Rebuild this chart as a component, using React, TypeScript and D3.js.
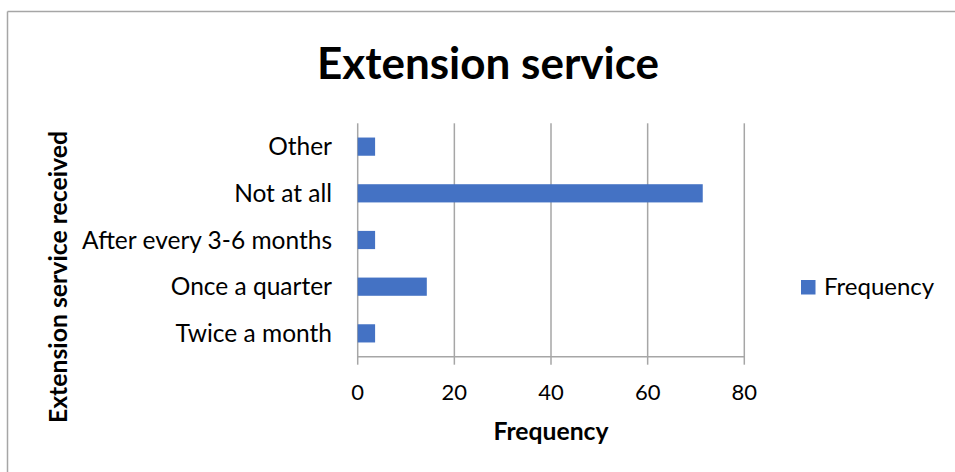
import React from "react";
import * as d3 from "d3";

const categories = ["Other", "Not at all", "After every 3-6 months", "Once a quarter", "Twice a month"];
const frequency = [3.6, 71.4, 3.6, 14.3, 3.6];
const xTicks = [0, 20, 40, 60, 80];
const title = "Extension service";
const xTitle = "Frequency";
const yTitle = "Extension service received";
const seriesName = "Frequency";

const W = 955;
const H = 472;
const FONT = "Lato, 'Open Sans', sans-serif";

export default function App() {
  const left = 357.7;
  const right = 744.3;
  const top = 123.3;
  const bottom = 356.7;
  const x = d3.scaleLinear().domain([0, 80]).range([left, right]);
  const y = d3.scaleBand<string>().domain(categories).range([top, bottom]).paddingInner(0.61).paddingOuter(0.305);
  const grid = "#a6a6a6";
  return (
    <svg width={W} height={H} style={{ position: "absolute", left: 0, top: 0, background: "#fff" }}>
      <rect x={0} y={0} width={W} height={H} fill="#fff" />
      <line x1={7.5} y1={11.5} x2={W} y2={11.5} stroke="#a6a6a6" strokeWidth={1.5} />
      <line x1={7.5} y1={11.5} x2={7.5} y2={H} stroke="#a6a6a6" strokeWidth={1.5} />
      <text x={488} y={79} textAnchor="middle" fontFamily={FONT} fontWeight={700} fontSize={44} fill="#000">
        {title}
      </text>
      {xTicks.map((t) => (
        <line key={"g" + t} x1={x(t)} x2={x(t)} y1={top} y2={bottom + 8} stroke={grid} strokeWidth={1.5} />
      ))}
      <line x1={left} x2={right} y1={bottom} y2={bottom} stroke={grid} strokeWidth={1.5} />
      {categories.map((c, i) => (
        <rect key={c} x={x(0)} y={y(c)!} width={x(frequency[i]) - x(0)} height={y.bandwidth()} fill="#4472c4" />
      ))}
      {categories.map((c) => (
        <text key={"l" + c} x={332} y={y(c)! + y.bandwidth() / 2 + 8.5} textAnchor="end" fontFamily={FONT} fontSize={24.5} fill="#000">
          {c}
        </text>
      ))}
      {xTicks.map((t) => (
        <text key={"t" + t} x={x(t)} y={399.5} textAnchor="middle" fontFamily={FONT} fontSize={22} fill="#000">
          {t}
        </text>
      ))}
      <text x={(left + right) / 2} y={440} textAnchor="middle" fontFamily={FONT} fontWeight={700} fontSize={24.7} fill="#000">
        {xTitle}
      </text>
      <text transform={`translate(67,277) rotate(-90)`} textAnchor="middle" fontFamily={FONT} fontWeight={700} fontSize={24.8} fill="#000">
        {yTitle}
      </text>
      <rect x={801} y={280} width={14.5} height={14.5} fill="#4472c4" />
      <text x={824} y={295} fontFamily={FONT} fontSize={24} fill="#000">
        {seriesName}
      </text>
    </svg>
  );
}
